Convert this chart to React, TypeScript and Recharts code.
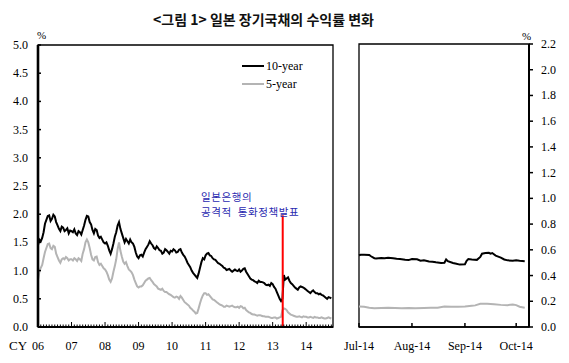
import React from 'react';
import { LineChart, Line, XAxis, YAxis, ReferenceArea, ReferenceLine } from 'recharts';

// ---- Left panel: yields at the start of each month, Jan 2006 .. Oct 2014 ----
const leftYearLabels = ['06', '07', '08', '09', '10', '11', '12', '13', '14'];
const leftYTicks = [0, 0.5, 1, 1.5, 2, 2.5, 3, 3.5, 4, 4.5, 5];

const yield10y = [
  1.45, 1.52, 1.68, 1.90, 1.98, 1.92, 1.96, 1.80, 1.70, 1.76, 1.72, 1.66,
  1.70, 1.73, 1.63, 1.68, 1.72, 1.90, 1.96, 1.82, 1.66, 1.72, 1.58, 1.55,
  1.48, 1.44, 1.30, 1.48, 1.68, 1.86, 1.66, 1.50, 1.52, 1.55, 1.48, 1.32,
  1.22, 1.28, 1.32, 1.42, 1.52, 1.45, 1.38, 1.40, 1.35, 1.32, 1.36, 1.30,
  1.34, 1.36, 1.33, 1.38, 1.28, 1.20, 1.10, 1.00, 0.93, 0.87, 1.05, 1.22,
  1.27, 1.31, 1.26, 1.20, 1.16, 1.12, 1.08, 1.04, 1.02, 1.00, 1.00, 1.00,
  1.02, 1.00, 1.04, 0.94, 0.86, 0.83, 0.80, 0.82, 0.80, 0.78, 0.74, 0.73,
  0.76, 0.68, 0.56, 0.46, 0.92, 0.86, 0.82, 0.76, 0.70, 0.66, 0.72, 0.70,
  0.66, 0.62, 0.63, 0.62, 0.60, 0.59, 0.56, 0.52, 0.53, 0.51,
];
// mid-month readings (between consecutive month starts)
const yield10yMid = [
  1.55, 1.58, 1.83, 1.97, 1.88, 1.99, 1.86, 1.74, 1.78, 1.70, 1.75, 1.71,
  1.68, 1.66, 1.70, 1.64, 1.80, 1.97, 1.86, 1.72, 1.74, 1.62, 1.60, 1.50,
  1.50, 1.36, 1.38, 1.60, 1.80, 1.74, 1.58, 1.56, 1.48, 1.50, 1.42, 1.25,
  1.27, 1.25, 1.38, 1.46, 1.48, 1.40, 1.43, 1.36, 1.30, 1.38, 1.33, 1.35,
  1.38, 1.32, 1.37, 1.32, 1.25, 1.14, 1.06, 0.96, 0.90, 0.95, 1.15, 1.20,
  1.30, 1.27, 1.22, 1.19, 1.13, 1.10, 1.05, 1.01, 1.03, 0.98, 1.02, 0.99,
  0.98, 1.03, 0.98, 0.90, 0.84, 0.81, 0.78, 0.80, 0.79, 0.75, 0.75, 0.78,
  0.71, 0.62, 0.50, 0.50, 0.84, 0.88, 0.78, 0.73, 0.68, 0.70, 0.71, 0.68,
  0.64, 0.60, 0.65, 0.60, 0.58, 0.57, 0.54, 0.50, 0.52,
];

const yield5y = [
  0.84, 1.05, 1.22, 1.40, 1.48, 1.38, 1.42, 1.24, 1.14, 1.22, 1.24, 1.18,
  1.20, 1.22, 1.17, 1.20, 1.30, 1.50, 1.50, 1.28, 1.18, 1.25, 1.10, 1.08,
  1.02, 0.92, 0.80, 0.98, 1.20, 1.50, 1.25, 1.12, 1.08, 1.00, 0.92, 0.78,
  0.70, 0.72, 0.78, 0.84, 0.87, 0.80, 0.74, 0.68, 0.66, 0.64, 0.62, 0.58,
  0.55, 0.52, 0.53, 0.55, 0.48, 0.42, 0.38, 0.32, 0.27, 0.25, 0.42, 0.56,
  0.60, 0.58, 0.52, 0.48, 0.44, 0.40, 0.38, 0.36, 0.37, 0.37, 0.36, 0.35,
  0.34, 0.36, 0.34, 0.28, 0.25, 0.22, 0.21, 0.21, 0.20, 0.19, 0.18, 0.17,
  0.16, 0.17, 0.16, 0.18, 0.33, 0.30, 0.24, 0.21, 0.19, 0.18, 0.18, 0.19,
  0.18, 0.17, 0.17, 0.18, 0.17, 0.16, 0.16, 0.15, 0.17, 0.15,
];
const yield5yMid = [
  0.98, 1.10, 1.33, 1.47, 1.40, 1.44, 1.30, 1.18, 1.20, 1.20, 1.22, 1.20,
  1.18, 1.20, 1.22, 1.17, 1.38, 1.55, 1.40, 1.20, 1.24, 1.15, 1.12, 1.04,
  0.98, 0.84, 0.86, 1.08, 1.38, 1.35, 1.16, 1.15, 1.02, 0.97, 0.84, 0.72,
  0.72, 0.74, 0.82, 0.86, 0.83, 0.76, 0.72, 0.67, 0.68, 0.62, 0.60, 0.57,
  0.53, 0.54, 0.50, 0.52, 0.44, 0.40, 0.34, 0.29, 0.24, 0.33, 0.50, 0.60,
  0.57, 0.55, 0.49, 0.46, 0.42, 0.39, 0.36, 0.38, 0.36, 0.38, 0.35, 0.36,
  0.37, 0.33, 0.30, 0.26, 0.23, 0.22, 0.20, 0.21, 0.19, 0.18, 0.18, 0.16,
  0.17, 0.15, 0.17, 0.30, 0.32, 0.26, 0.22, 0.20, 0.18, 0.19, 0.17, 0.18,
  0.17, 0.18, 0.16, 0.17, 0.16, 0.17, 0.15, 0.16, 0.16,
];

const qqeDate = 2013.3; // BOJ QQE announcement (Apr 2013)
const qqeLineTop = 1.98;

// ---- Right panel: Jul 1 2014 .. early Oct 2014 (days since Jul 1) ----
const rightMonthLabels = ['Jul-14', 'Aug-14', 'Sep-14', 'Oct-14'];
const rightMonthStartDays = [0, 31, 62, 92];
const rightYTicks = [0, 0.2, 0.4, 0.6, 0.8, 1.0, 1.2, 1.4, 1.6, 1.8, 2.0, 2.2];

const rightDays10 = [0, 1, 3, 6, 7, 9, 10, 13, 15, 17, 20, 22, 24, 27, 29, 31, 34, 36, 38, 41, 43, 45, 48, 50, 51, 52, 55, 57, 59, 62, 63, 64, 66, 69, 71, 72, 74, 76, 77, 78, 80, 83, 85, 87, 90, 92, 94, 97];
const rightYield10 = [0.558, 0.562, 0.562, 0.560, 0.550, 0.535, 0.533, 0.537, 0.535, 0.538, 0.535, 0.530, 0.528, 0.522, 0.520, 0.528, 0.526, 0.516, 0.518, 0.510, 0.508, 0.503, 0.498, 0.500, 0.525, 0.512, 0.498, 0.492, 0.485, 0.488, 0.515, 0.528, 0.525, 0.522, 0.545, 0.570, 0.575, 0.577, 0.570, 0.575, 0.555, 0.540, 0.525, 0.518, 0.515, 0.518, 0.515, 0.512];

const rightDays5 = [0, 3, 6, 9, 13, 17, 21, 25, 29, 33, 38, 42, 46, 50, 54, 58, 62, 66, 68, 71, 75, 79, 83, 87, 90, 92, 94, 97];
const rightYield5 = [0.160, 0.158, 0.150, 0.145, 0.148, 0.150, 0.148, 0.146, 0.148, 0.146, 0.148, 0.150, 0.150, 0.160, 0.158, 0.158, 0.160, 0.165, 0.168, 0.180, 0.180, 0.176, 0.172, 0.170, 0.175, 0.170, 0.158, 0.150];

// ---- derived tables ----
const leftData: { t: number; y10: number; y5: number }[] = [];
yield10y.forEach((v, i) => {
  leftData.push({ t: 2006 + i / 12, y10: v, y5: yield5y[i] });
  if (i < yield10yMid.length) {
    leftData.push({ t: 2006 + (i + 0.5) / 12, y10: yield10yMid[i], y5: yield5yMid[i] });
  }
});
const leftXTicks = Array.from({ length: 106 }, (_, k) => 2006 + k / 12);
const right10Data = rightDays10.map((d, i) => ({ d, v: rightYield10[i] }));
const right5Data = rightDays5.map((d, i) => ({ d, v: rightYield5[i] }));

const SERIF = '"Liberation Serif", "Times New Roman", serif';
const KR = '"Noto Sans CJK KR", "Noto Sans", sans-serif';

const LeftYTick = (props: any) => {
  const { x, y, payload } = props;
  return (
    <g>
      <line x1={x} x2={x + 3} y1={y} y2={y} stroke="#000" strokeWidth={1.5} />
      <text x={x - 10} y={y + 4} textAnchor="end" fontFamily={SERIF} fontSize={12} fill="#000">
        {Number(payload.value).toFixed(1)}
      </text>
    </g>
  );
};

const LeftXTick = (props: any) => {
  const { x, y, payload } = props;
  const k = Math.round((payload.value - 2006) * 12);
  const major = k % 12 === 0;
  return (
    <g>
      <line x1={x} x2={x} y1={y} y2={y - (major ? 5 : 2.5)} stroke="#000" strokeWidth={1} />
      {major && (
        <text x={x} y={y + 23} textAnchor="middle" fontFamily={SERIF} fontSize={12} fill="#000">
          {leftYearLabels[k / 12]}
        </text>
      )}
    </g>
  );
};

const RightYTick = (props: any) => {
  const { x, y, payload } = props;
  return (
    <g>
      <line x1={x} x2={x + 4} y1={y} y2={y} stroke="#000" strokeWidth={1.5} />
      <text x={x + 12} y={y + 4} textAnchor="start" fontFamily={SERIF} fontSize={12} fill="#000">
        {Number(payload.value).toFixed(1)}
      </text>
    </g>
  );
};

const RightXTick = (props: any) => {
  const { x, y, payload } = props;
  const idx = rightMonthStartDays.indexOf(payload.value);
  return (
    <g>
      <line x1={x} x2={x} y1={y} y2={y - 4} stroke="#000" strokeWidth={1.5} />
      <text x={x} y={y + 23} textAnchor="middle" fontFamily={SERIF} fontSize={12} fill="#000">
        {rightMonthLabels[idx]}
      </text>
    </g>
  );
};

export default function App() {
  return (
    <div style={{ position: 'absolute', left: 0, top: 0, width: 569, height: 363, background: '#fff', overflow: 'hidden' }}>
      <div style={{ position: 'absolute', left: 0, top: 0 }}>
        <LineChart width={569} height={363} data={leftData} margin={{ top: 45, right: 236, bottom: 6, left: 8 }}>
          <ReferenceArea x1={2006} x2={2014.8} y1={0} y2={5} fill="none" stroke="#000" strokeWidth={1.3} ifOverflow="visible" />
          <XAxis
            dataKey="t"
            type="number"
            domain={[2006, 2014.8]}
            ticks={leftXTicks}
            interval={0}
            height={30}
            tickSize={0}
            tickMargin={0}
            tickLine={false}
            tick={LeftXTick}
            axisLine={{ stroke: '#000', strokeWidth: 2 }}
            allowDataOverflow
          />
          <YAxis
            type="number"
            domain={[0, 5]}
            ticks={leftYTicks}
            interval={0}
            width={30}
            tickSize={0}
            tickMargin={0}
            tickLine={false}
            tick={LeftYTick}
            axisLine={{ stroke: '#000', strokeWidth: 2.6 }}
          />
          <Line dataKey="y5" stroke="#b4b4b4" strokeWidth={2} dot={false} isAnimationActive={false} />
          <Line dataKey="y10" stroke="#000" strokeWidth={2} dot={false} isAnimationActive={false} />
          <ReferenceLine
            segment={[{ x: qqeDate, y: 0 }, { x: qqeDate, y: qqeLineTop }]}
            stroke="#ff0000"
            strokeWidth={2}
          />
        </LineChart>
      </div>

      <div style={{ position: 'absolute', left: 0, top: 0 }}>
        <LineChart width={569} height={363} margin={{ top: 44, right: 10, bottom: 6, left: 359 }}>
          <ReferenceArea x1={0} x2={99.5} y1={0} y2={2.2} fill="none" stroke="#000" strokeWidth={1.3} ifOverflow="visible" />
          <XAxis
            dataKey="d"
            type="number"
            domain={[0, 99.5]}
            ticks={rightMonthStartDays}
            interval={0}
            height={30}
            tickSize={0}
            tickMargin={0}
            tickLine={false}
            tick={RightXTick}
            axisLine={{ stroke: '#000', strokeWidth: 1.5 }}
            allowDuplicatedCategory={false}
          />
          <YAxis
            orientation="right"
            type="number"
            domain={[0, 2.2]}
            ticks={rightYTicks}
            interval={0}
            width={30}
            tickSize={0}
            tickMargin={0}
            tickLine={false}
            tick={RightYTick}
            axisLine={{ stroke: '#000', strokeWidth: 2 }}
          />
          <Line data={right5Data} dataKey="v" stroke="#b4b4b4" strokeWidth={2} dot={false} isAnimationActive={false} />
          <Line data={right10Data} dataKey="v" stroke="#000" strokeWidth={2} dot={false} isAnimationActive={false} />
        </LineChart>
      </div>

      {/* Title */}
      <div style={{ position: 'absolute', left: 0, width: 527, top: 10, textAlign: 'center', fontFamily: KR, fontWeight: 700, fontSize: 14, lineHeight: '19px', color: '#111' }}>
        {'<그림 1> 일본 장기국채의 수익률 변화'}
      </div>

      {/* unit labels */}
      <div style={{ position: 'absolute', left: 37, top: 28, fontFamily: SERIF, fontSize: 11, lineHeight: '14px' }}>%</div>
      <div style={{ position: 'absolute', left: 522, top: 29, fontFamily: SERIF, fontSize: 11, lineHeight: '14px' }}>%</div>
      <div style={{ position: 'absolute', left: 9, top: 338, fontFamily: SERIF, fontSize: 13, lineHeight: '16px' }}>CY</div>

      {/* legend */}
      <div style={{ position: 'absolute', left: 242, top: 57, fontFamily: SERIF, fontSize: 12, lineHeight: '18px' }}>
        <div style={{ display: 'flex', alignItems: 'center' }}>
          <span style={{ display: 'inline-block', width: 22, height: 2, background: '#000', marginRight: 2 }} />
          <span>10-year</span>
        </div>
        <div style={{ display: 'flex', alignItems: 'center' }}>
          <span style={{ display: 'inline-block', width: 22, height: 2, background: '#b4b4b4', marginRight: 2 }} />
          <span>5-year</span>
        </div>
      </div>

      {/* annotation */}
      <div style={{ position: 'absolute', left: 201, top: 189, fontFamily: KR, fontSize: 10.5, lineHeight: '15px', color: '#2a2ab0', letterSpacing: 0.6, whiteSpace: 'pre' }}>
        <div>일본은행의</div>
        <div>{'공격적  통화정책발표'}</div>
      </div>
    </div>
  );
}
